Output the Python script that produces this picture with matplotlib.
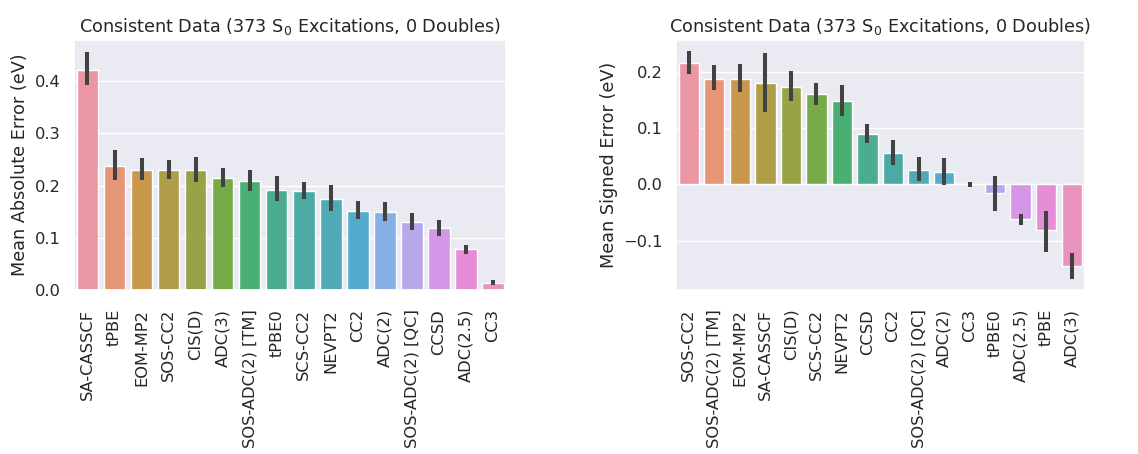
import numpy as np
import matplotlib
matplotlib.use("Agg")
import matplotlib.pyplot as plt
import seaborn as sns

# === Dados
mae_methods = ["SA-CASSCF", "tPBE", "EOM-MP2", "SOS-CC2", "CIS(D)", "ADC(3)",
               "SOS-ADC(2) [TM]", "tPBE0", "SCS-CC2", "NEVPT2", "CC2", "ADC(2)",
               "SOS-ADC(2) [QC]", "CCSD", "ADC(2.5)", "CC3"]
mae_values = [0.422, 0.238, 0.229, 0.229, 0.229, 0.214, 0.208, 0.192, 0.189,
              0.175, 0.152, 0.150, 0.131, 0.118, 0.078, 0.014]
mae_lo = [0.392, 0.211, 0.210, 0.212, 0.207, 0.198, 0.190, 0.171, 0.174,
          0.152, 0.136, 0.132, 0.115, 0.104, 0.070, 0.010]
mae_hi = [0.456, 0.269, 0.252, 0.249, 0.254, 0.234, 0.229, 0.218, 0.207,
          0.202, 0.171, 0.169, 0.148, 0.135, 0.086, 0.020]

mse_methods = ["SOS-CC2", "SOS-ADC(2) [TM]", "EOM-MP2", "SA-CASSCF", "CIS(D)",
               "SCS-CC2", "NEVPT2", "CCSD", "CC2", "SOS-ADC(2) [QC]", "ADC(2)",
               "CC3", "tPBE0", "ADC(2.5)", "tPBE", "ADC(3)"]
mse_values = [0.215, 0.188, 0.188, 0.181, 0.1735, 0.1606, 0.148, 0.090, 0.055,
              0.025, 0.022, 0.0, -0.016, -0.061, -0.082, -0.145]
mse_lo = [0.196, 0.168, 0.164, 0.129, 0.148, 0.1406, 0.121, 0.074, 0.0335,
          0.005, -0.002, -0.005, -0.048, -0.073, -0.121, -0.168]
mse_hi = [0.2365, 0.212, 0.214, 0.2335, 0.202, 0.181, 0.176, 0.108, 0.079,
          0.048, 0.047, 0.0047, 0.014, -0.052, -0.048, -0.123]

title = "Consistent Data (373 S$_0$ Excitations, 0 Doubles)"

sns.set_theme(style="darkgrid")
palette = [sns.desaturate(c, 0.75) for c in sns.husl_palette(16, l=.7)]


def bar_panel(ax, names, vals, lo, hi, ylabel):
    x = np.arange(len(names))
    vals = np.array(vals)
    yerr = [vals - np.array(lo), np.array(hi) - vals]
    ax.bar(x, vals, width=0.8, color=palette[:len(names)], yerr=yerr,
           error_kw=dict(ecolor=".26", elinewidth=2.9, capsize=0))
    ax.set_xlim(-0.5, len(names) - 0.5)
    ax.set_xticks(x)
    ax.set_xticklabels(names, rotation=90)
    ax.xaxis.grid(False)
    ax.set_ylabel(ylabel, fontsize=12.7)
    ax.set_title(title, fontsize=12.7)
    ax.tick_params(labelsize=11.7)
    ax.tick_params(axis="x", pad=7.5)


fig = plt.figure(figsize=(11.38, 4.54), dpi=100)
ax1 = fig.add_axes([0.065, 0.361, 0.380, 0.551])
ax2 = fig.add_axes([0.594, 0.361, 0.359, 0.551])

bar_panel(ax1, mae_methods, mae_values, mae_lo, mae_hi, "Mean Absolute Error (eV)")
bar_panel(ax2, mse_methods, mse_values, mse_lo, mse_hi, "Mean Signed Error (eV)")
ax1.set_yticks([0.0, 0.1, 0.2, 0.3, 0.4])
ax2.set_yticks([-0.1, 0.0, 0.1, 0.2])

fig.savefig("out.png", dpi=100)
